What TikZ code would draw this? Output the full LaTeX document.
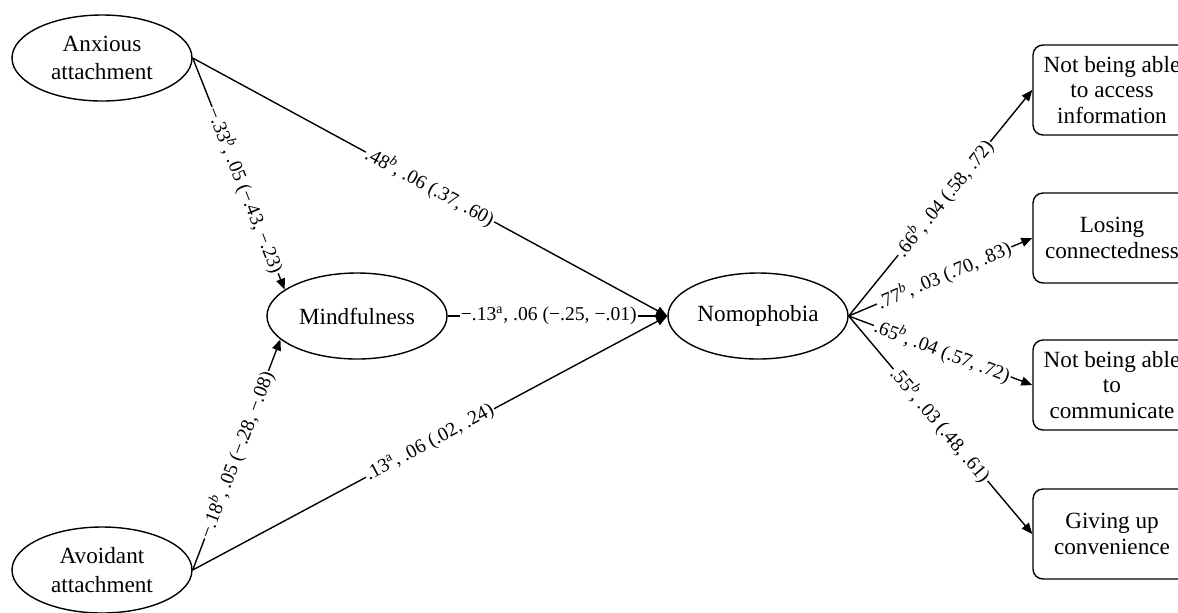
\documentclass[tikz,border=0pt]{standalone}
\usepackage{fontspec}
\setmainfont{Liberation Serif}
\usetikzlibrary{arrows.meta,shapes.geometric}

\begin{document}
\begin{tikzpicture}[x=0.5pt,y=-0.5pt,
  latent/.style={draw,ellipse,line width=0.7pt,inner sep=0pt,minimum width=90pt,minimum height=43pt,align=center,font=\fontsize{11.6}{14.2}\selectfont},
  factor/.style={draw,rounded corners=5pt,line width=0.7pt,inner sep=0pt,minimum width=79pt,minimum height=45pt,align=center,font=\fontsize{11.6}{12.6}\selectfont},
  effect/.style={-{Triangle[length=5.5pt,width=4.5pt]},line width=0.7pt},
  coef/.style={sloped,fill=white,inner sep=0.6pt,font=\fontsize{9.8}{11}\selectfont}]
\clip (0,0) rectangle (1178,612);
% latent variables
\node[latent] (anx) at (102,58) {Anxious\\attachment};
\node[latent] (avo) at (102,570) {Avoidant\\attachment};
\node[latent] (mind) at (357,316) {Mindfulness};
\node[latent] (nomo) at (758,316) {Nomophobia};
% nomophobia factors
\node[factor] (info) at (1112,90) {Not being able\\to access\\information};
\node[factor] (conn) at (1112,238) {Losing\\connectedness};
\node[factor] (comm) at (1112,385) {Not being able\\to\\communicate};
\node[factor] (conv) at (1112,534) {Giving up\\convenience};
% paths
\draw[effect] (anx.east) -- node[coef,pos=0.57] {−.33\textsuperscript{\textit{b}}, .05 (−.43, −.23)} (mind.160);
\draw[effect] (avo.east) -- node[coef,pos=0.5] {−.18\textsuperscript{\textit{b}}, .05 (−.28, −.08)} (mind.197);
\draw[effect] (anx.east) -- node[coef,pos=0.5] {.48\textsuperscript{\textit{b}}, .06 (.37, .60)} (nomo.west);
\draw[effect] (mind.east) -- node[coef,pos=0.46] {−.13\textsuperscript{a}, .06 (−.25, −.01)} (nomo.west);
\draw[effect] (avo.east) -- node[coef,pos=0.5] {.13\textsuperscript{a}, .06 (.02, .24)} (nomo.west);
% loadings
\draw[effect] (nomo.east) -- node[coef,pos=0.52] {.66\textsuperscript{\textit{b}}, .04 (.58, .72)} (info.west);
\draw[effect] (nomo.east) -- node[coef,pos=0.52] {.77\textsuperscript{\textit{b}}, .03 (.70, .83)} (conn.west);
\draw[effect] (nomo.east) -- node[coef,pos=0.51] {.65\textsuperscript{\textit{b}}, .04 (.57, .72)} (comm.west);
\draw[effect] (nomo.east) -- node[coef,pos=0.5] {.55\textsuperscript{\textit{b}}, .03 (.48, .61)} (conv.west);
\end{tikzpicture}
\end{document}
